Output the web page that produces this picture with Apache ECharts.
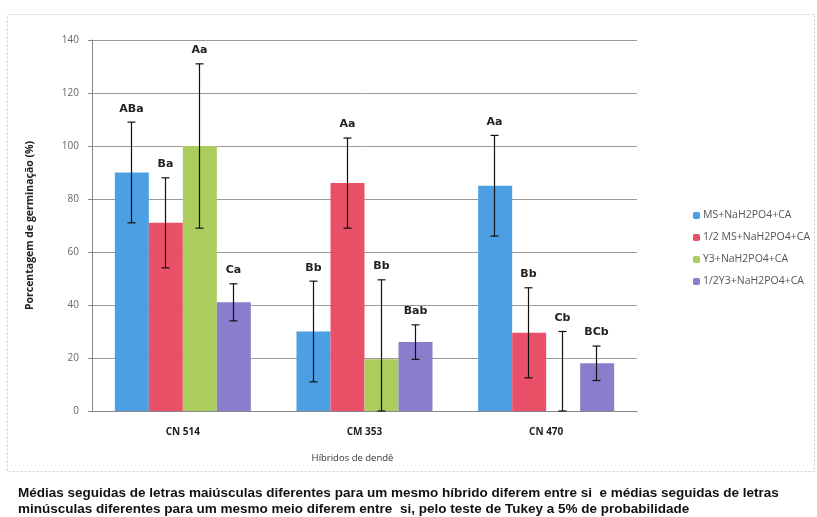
<!DOCTYPE html>
<html>
<head>
<meta charset="utf-8">
<script src="https://cdn.jsdelivr.net/npm/echarts@6/dist/echarts.min.js"></script>
<style>
  html, body { margin: 0; padding: 0; background: #fff; }
  #chart { width: 817px; height: 517px; }
</style>
</head>
<body>
<div id="chart"></div>
<script>
// Germination percentage by oil palm hybrid and culture medium
const categories = ['CN 514', 'CM 353', 'CN 470'];
const seriesNames = ['MS+NaH2PO4+CA', '1/2 MS+NaH2PO4+CA', 'Y3+NaH2PO4+CA', '1/2Y3+NaH2PO4+CA'];

const msValues = [90, 30, 85];
const msErrors = [19, 19, 19];
const halfMsValues = [71, 86, 29.5];
const halfMsErrors = [17, 17, 17];
const y3Values = [100, 19.5, 0];
const y3Errors = [31, 30, 30];
const halfY3Values = [41, 26, 18];
const halfY3Errors = [7, 6.5, 6.5];

const msLetters = ['ABa', 'Bb', 'Aa'];
const halfMsLetters = ['Ba', 'Aa', 'Bb'];
const y3Letters = ['Aa', 'Bb', 'Cb'];
const halfY3Letters = ['Ca', 'Bab', 'BCb'];

const yTicks = { min: 0, max: 140, interval: 20 };

const colors = ['#4d9fe3', '#eb5069', '#aacd5e', '#8c7dcc'];
const values = [msValues, halfMsValues, y3Values, halfY3Values];
const errors = [msErrors, halfMsErrors, y3Errors, halfY3Errors];
const letters = [msLetters, halfMsLetters, y3Letters, halfY3Letters];

const BAR_W = 34;

const chart = echarts.init(document.getElementById('chart'), null, { renderer: 'canvas' });

const barSeries = seriesNames.map((name, i) => ({
  name: name,
  type: 'bar',
  data: values[i],
  barWidth: BAR_W,
  barGap: '0%',
  itemStyle: { color: colors[i] },
  z: 2
}));

// Error bars with significance letters, drawn over each bar
const errorSeries = seriesNames.map((name, i) => ({
  type: 'custom',
  name: name + ' err',
  data: categories.map((c, k) => [k, values[i][k], errors[i][k]]),
  z: 5,
  silent: true,
  renderItem: function (params, api) {
    const k = api.value(0);
    const v = api.value(1);
    const e = api.value(2);
    const txt = letters[i][k];
    const offset = (i - 1.5) * BAR_W;
    const top = api.coord([k, v + e]);
    const bot = api.coord([k, Math.max(0, v - e)]);
    const x = Math.round(top[0] + offset - 1) + 0.5;
    const cap = 4;
    return {
      type: 'group',
      children: [
        { type: 'line', shape: { x1: x, y1: top[1], x2: x, y2: bot[1] }, style: { stroke: '#111', lineWidth: 1.2 } },
        { type: 'line', shape: { x1: x - cap, y1: top[1], x2: x + cap, y2: top[1] }, style: { stroke: '#111', lineWidth: 1.2 } },
        { type: 'line', shape: { x1: x - cap, y1: bot[1], x2: x + cap, y2: bot[1] }, style: { stroke: '#111', lineWidth: 1.2 } },
        { type: 'text', x: x, y: top[1] - 8, style: { text: txt, align: 'center', verticalAlign: 'bottom', fill: '#222', font: 'bold 11px "DejaVu Sans", sans-serif' } }
      ]
    };
  }
}));

chart.setOption({
  animation: false,
  backgroundColor: '#ffffff',
  grid: { left: 92, right: 180, top: 40, bottom: 106 },
  legend: {
    orient: 'vertical',
    left: 688,
    top: 205,
    itemWidth: 7,
    itemHeight: 7,
    itemGap: 11,
    data: seriesNames,
    textStyle: { fontSize: 10.5, color: '#555', fontFamily: '"Open Sans", sans-serif', padding: [0, 0, 0, -2] }
  },
  xAxis: {
    type: 'category',
    data: categories,
    name: 'Híbridos de dendê',
    nameLocation: 'middle',
    nameGap: 42,
    nameTextStyle: { fontSize: 9.5, color: '#333', fontFamily: '"Open Sans", sans-serif', padding: [0, 24, 0, 0] },
    axisLine: { lineStyle: { color: '#888' } },
    axisTick: { show: false },
    axisLabel: { fontSize: 10, color: '#222', fontWeight: 'bold', margin: 16, fontFamily: '"Open Sans", sans-serif' }
  },
  yAxis: {
    type: 'value',
    min: yTicks.min,
    max: yTicks.max,
    interval: yTicks.interval,
    name: 'Porcentagem de germinação (%)',
    nameLocation: 'middle',
    nameGap: 56,
    nameTextStyle: { fontSize: 10.5, color: '#222', fontWeight: 'bold', fontFamily: '"Open Sans", sans-serif' },
    axisLine: { show: true, lineStyle: { color: '#888' } },
    axisTick: { show: true, length: 4, lineStyle: { color: '#888' } },
    axisLabel: { fontSize: 10, color: '#666', margin: 13, fontFamily: '"Open Sans", sans-serif' },
    splitLine: { lineStyle: { color: '#9a9a9a', width: 1 } }
  },
  graphic: [
    {
      type: 'rect',
      shape: { x: 7.5, y: 14.5, width: 807, height: 457 },
      style: { fill: 'none', stroke: '#cfcfcf', lineWidth: 1, lineDash: [2, 2] },
      silent: true
    },
    {
      type: 'text',
      left: 18,
      top: 485,
      style: {
        text: 'Médias seguidas de letras maiúsculas diferentes para um mesmo híbrido diferem entre si  e médias seguidas de letras\nminúsculas diferentes para um mesmo meio diferem entre  si, pelo teste de Tukey a 5% de probabilidade',
        font: 'bold 13.5px "Liberation Sans", Arial, sans-serif',
        fill: '#111',
        lineHeight: 16
      }
    }
  ],
  series: barSeries.concat(errorSeries)
});
</script>
</body>
</html>
